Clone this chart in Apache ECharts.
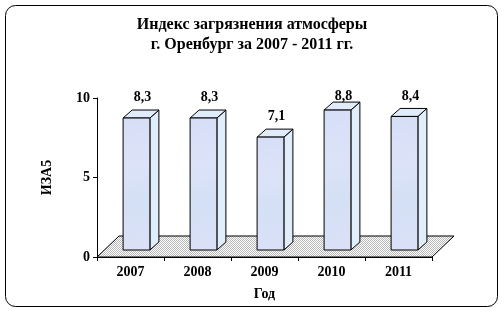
<!DOCTYPE html>
<html>
<head>
<meta charset="utf-8">
<style>
html,body{margin:0;padding:0;background:#fff;}
#chart{width:504px;height:313px;}
</style>
<script src="https://cdn.jsdelivr.net/npm/echarts@6/dist/echarts.min.js"></script>
</head>
<body>
<div id="chart"></div>
<script>
var categories = ['2007', '2008', '2009', '2010', '2011'];
var values = [8.3, 8.3, 7.1, 8.8, 8.4];
var labels = ['8,3', '8,3', '7,1', '8,8', '8,4'];
var yTicks = [0, 5, 10];

var chart = echarts.init(document.getElementById('chart'), null, {renderer: 'canvas'});

// dithered grey pattern for the floor
var pc = document.createElement('canvas');
pc.width = 2; pc.height = 2;
var pctx = pc.getContext('2d');
pctx.fillStyle = '#ffffff'; pctx.fillRect(0, 0, 2, 2);
pctx.fillStyle = '#b8b8b8'; pctx.fillRect(0, 0, 1, 1); pctx.fillRect(1, 1, 1, 1);
var floorPattern = {image: pc, repeat: 'repeat'};

var FONT = '"Liberation Serif", "Times New Roman", serif';
var FLOOR_DX = 22, FLOOR_DY = -21;
var BAR_OX = 6, BAR_OY = -7;
var BAR_DX = 9, BAR_DY = -8;

var barData = categories.map(function (c, i) { return [i, values[i]]; });

function renderFloor(params, api) {
  var cs = params.coordSys;
  var yb = cs.y + cs.height, x0 = cs.x, x1 = cs.x + cs.width;
  return {
    type: 'polygon',
    shape: {points: [[x0, yb], [x0 + FLOOR_DX, yb + FLOOR_DY], [x1 + FLOOR_DX, yb + FLOOR_DY], [x1, yb]]},
    style: {fill: floorPattern, stroke: '#000', lineWidth: 1}
  };
}

function renderBar(params, api) {
  var i = api.value(0), v = api.value(1);
  var p0 = api.coord([i, 0]);
  var p1 = api.coord([i, v]);
  var bw = api.size([1, 0])[0] * 0.4;
  var cx = p0[0] + BAR_OX;
  var xl = cx - bw / 2, xr = cx + bw / 2;
  var yb = p0[1] + BAR_OY, yt = p1[1] + BAR_OY;
  var yTop = api.coord([0, 10])[1];
  var ly = Math.max(yt - 21, yTop - 2);
  var frontGrad = new echarts.graphic.LinearGradient(0, 0, 1, 1, [
    {offset: 0, color: '#d6def7'}, {offset: 0.35, color: '#dce3f8'},
    {offset: 0.65, color: '#d4e0f5'}, {offset: 1, color: '#dbe1f8'}
  ]);
  return {
    type: 'group',
    children: [
      {type: 'polygon', shape: {points: [[xr, yb], [xr + BAR_DX, yb + BAR_DY], [xr + BAR_DX, yt + BAR_DY], [xr, yt]]},
        style: {fill: '#e0edfa', stroke: '#000', lineWidth: 1}},
      {type: 'polygon', shape: {points: [[xl, yt], [xl + BAR_DX, yt + BAR_DY], [xr + BAR_DX, yt + BAR_DY], [xr, yt]]},
        style: {fill: '#e0ebfb', stroke: '#000', lineWidth: 1}},
      {type: 'rect', shape: {x: xl, y: yt, width: bw, height: yb - yt},
        style: {fill: frontGrad, stroke: '#000', lineWidth: 1}},
      {type: 'text', x: cx + 6, y: ly,
        style: {text: labels[i], font: 'bold 14px ' + FONT, fill: '#000', align: 'center', verticalAlign: 'middle'}}
    ]
  };
}

var option = {
  backgroundColor: '#ffffff',
  animation: false,
  title: {
    text: 'Индекс загрязнения атмосферы\nг. Оренбург за 2007 - 2011 гг.',
    left: 'center', top: 10,
    textStyle: {fontFamily: FONT, fontWeight: 'bold', fontSize: 16, color: '#000', lineHeight: 20}
  },
  grid: {left: 97, right: 72, top: 98, bottom: 56},
  xAxis: {
    type: 'category',
    data: categories,
    name: 'Год', nameLocation: 'middle', nameGap: 30,
    nameTextStyle: {fontFamily: FONT, fontWeight: 'bold', fontSize: 14, color: '#000'},
    axisLine: {lineStyle: {color: '#000', width: 1}},
    axisTick: {show: true, length: 4, lineStyle: {color: '#000'}},
    axisLabel: {margin: 8, fontFamily: FONT, fontWeight: 'bold', fontSize: 14, color: '#000'},
    splitLine: {show: false}
  },
  yAxis: {
    type: 'value', min: 0, max: 10, interval: 5,
    name: 'ИЗА5', nameLocation: 'middle', nameGap: 43, nameRotate: 90,
    nameTextStyle: {fontFamily: FONT, fontWeight: 'bold', fontSize: 14, color: '#000'},
    axisLine: {show: true, lineStyle: {color: '#000', width: 1}},
    axisTick: {show: true, length: 4, lineStyle: {color: '#000'}},
    axisLabel: {margin: 7, fontFamily: FONT, fontWeight: 'bold', fontSize: 14, color: '#000'},
    splitLine: {show: false}
  },
  series: [
    {type: 'custom', renderItem: renderFloor, data: [[0, 0]], clip: false, silent: true, z: 1},
    {type: 'custom', renderItem: renderBar, data: barData, clip: false, z: 2,
      encode: {x: 0, y: 1}}
  ],
  graphic: [
    {type: 'rect', shape: {x: 5.5, y: 5.5, width: 492, height: 301, r: 10},
      style: {fill: 'none', stroke: '#000', lineWidth: 1}, z: 100}
  ]
};
chart.setOption(option);
</script>
</body>
</html>
